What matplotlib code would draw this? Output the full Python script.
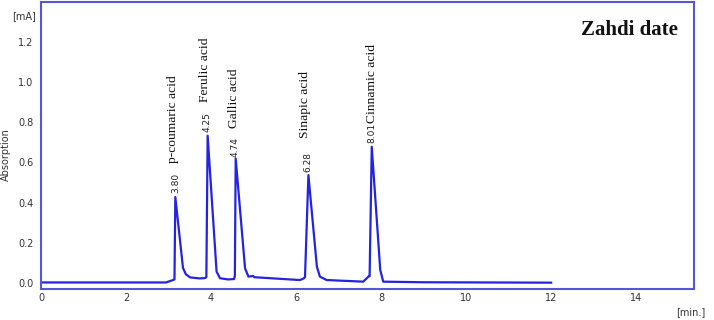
import matplotlib

matplotlib.use("Agg")
import matplotlib.pyplot as plt

# chromatogram trace (retention time in min, absorption in mA)
trace_time = [0.0, 2.94, 3.08, 3.14, 3.16, 3.34, 3.41, 3.51, 3.74, 3.86, 3.89, 3.92,
              4.13, 4.21, 4.40, 4.54, 4.56, 4.58, 4.80, 4.88, 4.99, 5.02, 6.09, 6.17,
              6.21, 6.29, 6.49, 6.56, 6.72, 7.58, 7.70, 7.73, 7.78, 7.98, 8.05, 9.0, 12.0]
trace_abs = [0.004, 0.004, 0.014, 0.019, 0.428, 0.076, 0.044, 0.029, 0.024, 0.026, 0.031, 0.733,
             0.058, 0.025, 0.019, 0.021, 0.036, 0.619, 0.074, 0.033, 0.036, 0.030, 0.016, 0.023,
             0.030, 0.537, 0.082, 0.033, 0.016, 0.008, 0.033, 0.035, 0.678, 0.066, 0.008, 0.005, 0.003]

# peak annotations
peak_names = ["p-coumaric acid", "Ferulic acid", "Gallic acid", "Sinapic acid", "Cinnamic acid"]
peak_rt_labels = ["3.80", "4.25", "4.74", "6.28", "8.01"]
peak_x = [3.17, 3.91, 4.57, 6.27, 7.78]
rt_label_y = [0.448, 0.752, 0.628, 0.554, 0.698]
name_x = [3.10, 3.86, 4.55, 6.22, 7.78]
name_y = [0.597, 0.900, 0.770, 0.720, 0.794]

x_ticks = [0, 2, 4, 6, 8, 10, 12, 14]
y_ticks = [0.0, 0.2, 0.4, 0.6, 0.8, 1.0, 1.2]

line_color = "#2323e0"
frame_color = "#5555d5"
text_color = "#333333"

fig = plt.figure(figsize=(7.14, 3.2), dpi=100)
ax = fig.add_axes([0.0574, 0.0978, 0.9146, 0.895])

ax.plot(trace_time, trace_abs, color=line_color, linewidth=1.6, solid_joinstyle="round")

for x, y, lab in zip(peak_x, rt_label_y, peak_rt_labels):
    ax.text(x, y, lab, rotation=90, ha="center", va="bottom", fontsize=6.5,
            family="DejaVu Sans", color="#222222")
for x, y, name in zip(name_x, name_y, peak_names):
    ax.text(x, y, name, rotation=90, ha="center", va="bottom", fontsize=9.7,
            family="Liberation Serif", color="#111111")

ax.text(0.975, 0.905, "Zahdi date", transform=ax.transAxes, ha="right", va="center",
        fontsize=15, fontweight="bold", family="Liberation Serif", color="#111111")

ax.set_xlim(0, 15.36)
ax.set_ylim(-0.027, 1.395)
ax.set_xticks(x_ticks)
ax.set_yticks(y_ticks)
ax.set_yticklabels([f"{v:.1f}" for v in y_ticks])
ax.tick_params(axis="both", length=0, labelsize=7, colors=text_color)
ax.tick_params(axis="y", pad=5.5)
ax.tick_params(axis="x", pad=3)
for spine in ax.spines.values():
    spine.set_color(frame_color)
    spine.set_linewidth(1.5)

fig.text(36 / 714, 1 - 16 / 320, "[mA]", ha="right", va="center", fontsize=7, color=text_color)
fig.text(6 / 714, 1 - 155 / 320, "Absorption", rotation=90, ha="center", va="center",
         fontsize=7, color=text_color)
fig.text(705 / 714, 1 - 311.7 / 320, "[min.]", ha="right", va="center", fontsize=7,
         color=text_color)

fig.savefig("out.png", dpi=100)
plt.close(fig)
